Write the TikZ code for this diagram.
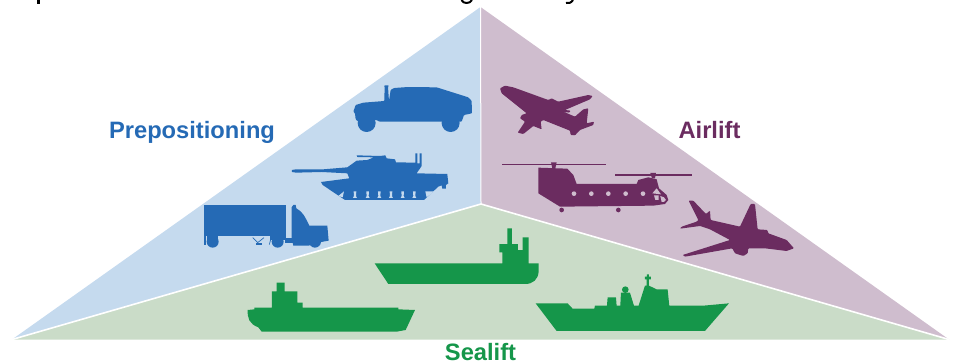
\documentclass[tikz,border=0pt]{standalone}
\usepackage{fontspec}
\setmainfont{Liberation Sans}
\definecolor{lblue}{HTML}{C5DAEE}
\definecolor{lmauve}{HTML}{CFBDCE}
\definecolor{lgreen}{HTML}{CADCC8}
\definecolor{dblue}{HTML}{256AB5}
\definecolor{dpurple}{HTML}{6B2C60}
\definecolor{dgreen}{HTML}{15964A}
\tikzset{
  lab/.style={font=\fontsize{23.7}{26}\selectfont\bfseries,inner sep=0pt,anchor=base},
  sep/.style={draw=white,line width=1.6pt},
  soft/.style={rounded corners=0.8pt},
}
\begin{document}
\begin{tikzpicture}[x=1pt,y=-1pt,line join=round]
\useasboundingbox (0,0) rectangle (953,362);
\coordinate (apex) at (480.5,7);
\coordinate (mid) at (481,204);
\coordinate (lc) at (12,339.5);
\coordinate (rc) at (949,339.5);
\fill[lblue] (apex) -- (mid) -- (lc) -- cycle;
\fill[lmauve] (apex) -- (rc) -- (mid) -- cycle;
\fill[lgreen] (lc) -- (mid) -- (rc) -- cycle;
\draw[sep] (lc) -- (mid) -- (rc);
\draw[draw=white,line width=1pt] (apex) -- (mid);
\node[lab,text=dblue] (pre) at (192,138) {Prepositioning};
\node[lab,text=dpurple] (air) at (709.5,138) {Airlift};
\node[lab,text=dgreen] (sea) at (480.5,360.5) {Sealift};
% blue vehicles
\begin{scope}[shift={(190,70)},x=0.3333pt,y=-0.3333pt]
% humvee
\fill[dblue,soft] (490,125) -- (497,105) -- (520,98) -- (583,93) -- (584,50) -- (582,46) -- (597,46) -- (594,50) -- (597,93) -- (602,60) -- (612,54) -- (655,51) -- (740,52) -- (835,82) -- (845,92) -- (846,130) -- (822,135) -- (815,155) -- (750,155) -- (568,155) -- (560,150) -- (505,155) -- (497,148) -- (495,130) -- cycle;
\fill[dblue] (530,159) circle[radius=27];
\fill[dblue] (782,159) circle[radius=27];
% tank
\fill[dblue] (306,300) -- (318,298) -- (400,298) -- (472,292) -- (500,272) -- (532,270) -- (552,262) -- (502,261) -- (500,256) -- (570,258) -- (586,256) -- (590,265) -- (615,268) -- (618,277) -- (676,278) -- (676,250) -- (682,250) -- (682,280) -- (689,280) -- (689,250) -- (695,250) -- (695,288) -- (680,310) -- (772,312) -- (775,340) -- (768,345) -- (768,356) -- (757,356) -- (755,346) -- (745,350) -- (702,390) -- (465,390) -- (398,345) -- (393,336) -- (478,325) -- (472,310) -- (395,306) -- (318,308) -- (306,306) -- cycle;
\foreach \xx in {495,533,568,603,638,673}
  \fill[lblue] (\xx-4,364) -- (\xx+4,364) -- (\xx+3,378) -- (\xx+6,384) -- (\xx-6,384) -- (\xx-3,378) -- cycle;
\fill[lblue] (445,378) -- (462,364) -- (458,382) -- cycle;
\fill[lblue] (706,364) -- (732,364) -- (710,382) -- cycle;
% truck
\fill[dblue] (43,404) rectangle (288,498);
\fill[dblue] (43,498) rectangle (47,524);
\fill[dblue] (50,498) rectangle (85,510);
\fill[dblue] (240,498) rectangle (288,510);
\fill[dblue] (68,515) circle[radius=18];
\fill[dblue] (263,515) circle[radius=18];
\fill[dblue] (375,515) circle[radius=18];
\fill[dblue] (285,505) rectangle (320,518);
\fill[dblue] (305,505) -- (305,412) -- (310,405) -- (317,405) -- (319,415) .. controls (338,425) and (345,440) .. (358,467) -- (412,467) -- (416,512) -- (394,516) -- (355,527) -- (310,527) -- cycle;
\draw[dblue,line width=0.7pt] (188,503) -- (203,518) -- (222,503);
\fill[dblue] (198,518) rectangle (215,526);
\draw[dblue,line width=0.7pt] (238,524) -- (243,505);
\end{scope}
% purple aircraft
\begin{scope}[shift={(480,70)},x=0.3333pt,y=-0.3333pt]
\fill[dpurple,soft] (60,55) -- (75,47) -- (100,52) -- (205,90) -- (215,85) -- (235,95) -- (325,75) -- (338,78) -- (330,88) -- (255,120) -- (272,122) -- (268,128) -- (250,125) -- (285,140) -- (310,118) -- (325,115) -- (320,160) -- (342,155) -- (340,165) -- (300,180) -- (285,196) -- (272,195) -- (270,182) -- (190,150) -- (182,155) -- (185,178) -- (160,168) -- (130,192) -- (113,188) -- (135,155) -- (120,145) -- (125,135) -- (140,130) -- (65,70) -- cycle;
% chinook
\fill[dpurple] (65,281) -- (377,281) -- (377,285) -- (65,285) -- cycle;
\fill[dpurple] (213,277) -- (230,277) -- (226,295) -- (217,295) -- cycle;
\fill[dpurple] (405,313) -- (635,313) -- (635,317) -- (405,317) -- cycle;
\fill[dpurple] (511,309) -- (528,309) -- (525,325) -- (516,325) -- cycle;
\fill[dpurple] (175,293) -- (262,296) -- (280,315) -- (290,342) -- (470,342) -- (475,330) -- (505,322) -- (530,328) -- (537,355) -- (560,375) -- (565,390) -- (555,402) -- (520,407) -- (240,410) -- (175,370) -- cycle;
\foreach \xx in {282,334,385,437,489}
  \fill[lmauve] (\xx,371) circle[radius=7];
\fill[lmauve] (517,370) -- (530,355) -- (543,373) -- cycle;
\fill[lmauve] (522,376) -- (536,376) -- (536,390) -- (526,390) -- cycle;
\fill[lmauve] (541,378) -- (552,382) -- (558,390) -- (552,396) -- (545,396) -- cycle;
\fill[dpurple] (245,420) circle[radius=7];
\fill[dpurple] (415,420) circle[radius=7];
% airliner
\fill[dpurple,soft] (626,392) -- (640,392) -- (678,432) -- (690,422) -- (692,450) -- (780,470) -- (812,402) -- (825,402) -- (833,478) -- (862,480) -- (865,490) -- (920,510) -- (942,535) -- (920,543) -- (855,535) -- (805,535) -- (803,550) -- (790,558) -- (765,550) -- (757,535) -- (615,560) -- (608,555) -- (750,510) -- (690,478) -- (660,468) -- (600,476) -- (605,470) -- (650,455) -- (655,450) -- cycle;
\end{scope}
% ships
\begin{scope}[shift={(230,220)},x=0.3333pt,y=-0.3333pt]
\fill[dgreen] (434,130) -- (817,130) -- (817,97) -- (808,97) -- (808,72) -- (832,72) -- (832,25) -- (846,25) -- (846,72) -- (864,72) -- (864,90) -- (878,90) -- (878,52) -- (896,52) -- (896,130) -- (926,130) -- (926,155) .. controls (924,178) and (910,192) .. (885,192) -- (475,192) -- cycle;
\fill[dgreen] (555,270) -- (505,268) -- (505,263) -- (218,263) -- (218,248) -- (202,248) -- (202,214) -- (164,214) -- (164,188) -- (140,188) -- (140,214) -- (126,214) -- (126,263) -- (73,263) -- (73,268) -- (53,270) .. controls (52,295) and (58,312) .. (85,322) -- (95,335) -- (500,335) -- (527,330) -- cycle;
\fill[dgreen] (917,250) -- (1013,250) -- (1028,266) -- (1093,266) -- (1095,257) -- (1131,257) -- (1133,232) -- (1158,232) -- (1160,257) -- (1171,257) -- (1173,218) -- (1200,218) -- (1212,257) -- (1226,257) -- (1245,197) -- (1250,197) -- (1250,178) -- (1245,178) -- (1245,170) -- (1251,170) -- (1251,163) -- (1257,163) -- (1257,170) -- (1263,170) -- (1263,178) -- (1257,178) -- (1257,197) -- (1280,208) -- (1313,208) -- (1318,257) -- (1420,257) -- (1497,250) -- (1425,333) -- (980,333) -- cycle;
\fill[dgreen] (1186,209) circle[radius=10];
\end{scope}
% clipped descenders of a heading above the picture
\begin{scope}
\clip (0,0) rectangle (953,4);
\fill[black] (37,0) rectangle (39.5,4);
\draw[black,line width=2pt] (461.5,0) .. controls (463,4) and (470,4) .. (472,0);
\draw[black,line width=2pt] (573,0) .. controls (571,3) and (569,3.5) .. (566,3);
\end{scope}
\end{tikzpicture}
\end{document}
